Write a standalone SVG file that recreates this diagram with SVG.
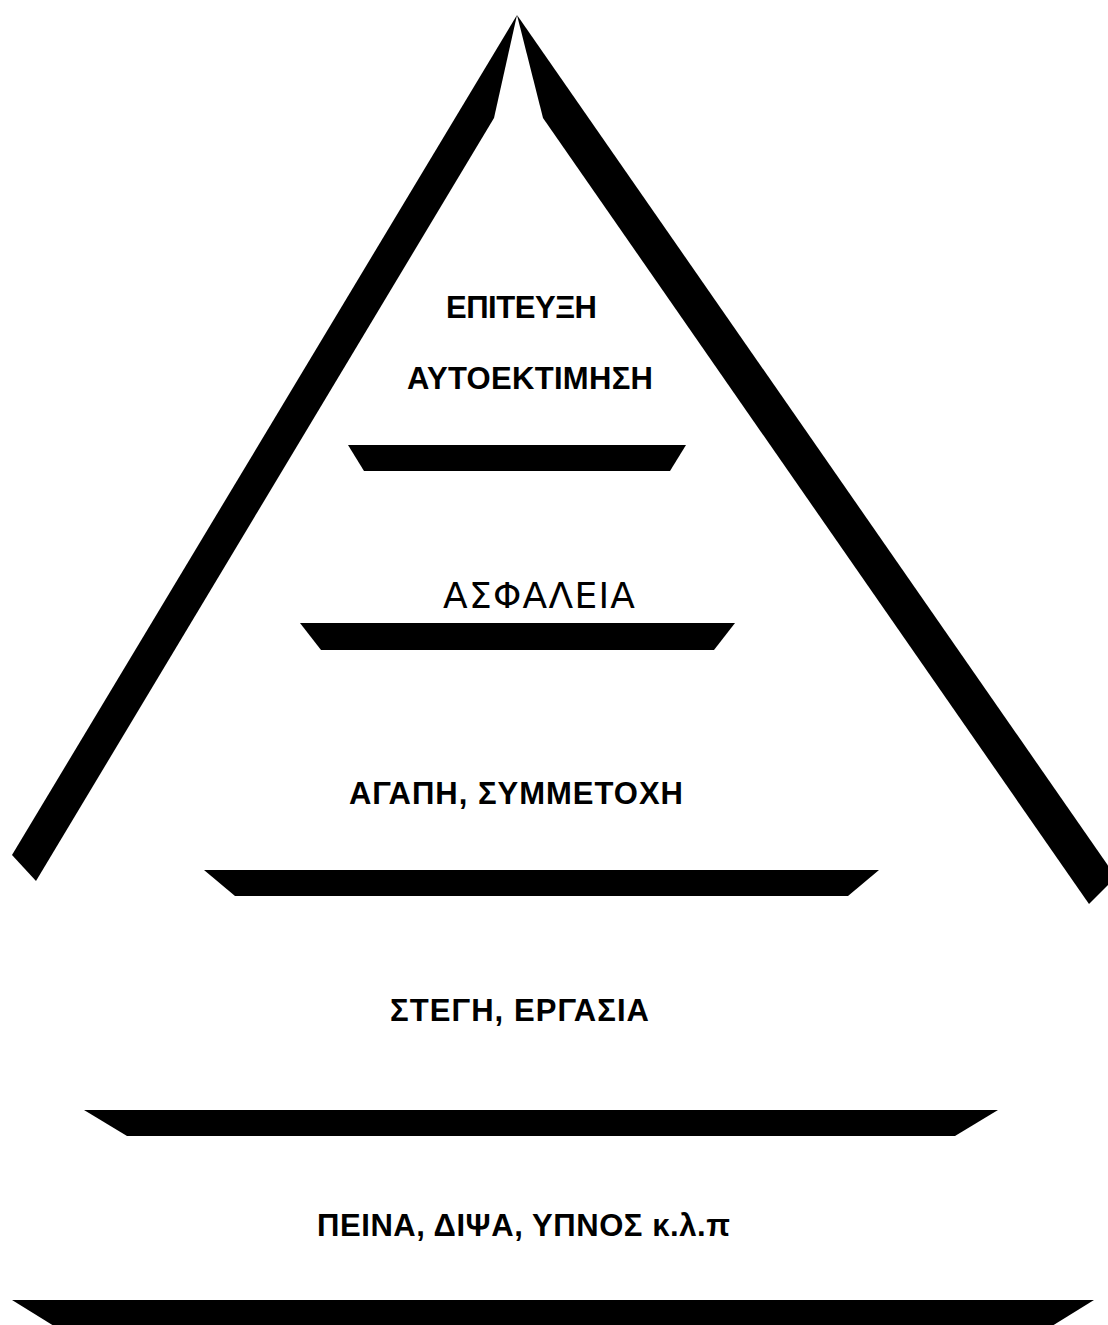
<svg xmlns="http://www.w3.org/2000/svg" width="1108" height="1325" viewBox="0 0 1108 1325">
  <style>
    .shape { fill: #000; stroke: none; }
    .lbl { font-family: "Liberation Sans", Arial, sans-serif; font-weight: bold; font-size: 31px; fill: #000; }
    .reg { font-family: "DejaVu Sans", "Liberation Sans", sans-serif; font-weight: normal; font-size: 36px; fill: #000; }
  </style>
  <rect width="1108" height="1325" fill="#fff"/>
  <g id="pyramid-sides">
    <polygon class="shape" points="517,15 494,118 36,881 12,855"/>
    <polygon class="shape" points="517,15 1116,877 1089,904 543,118"/>
  </g>
  <g id="bars">
    <polygon class="shape" points="348,445 686,445 670,471 364,471"/>
    <polygon class="shape" points="300,623 735,623 714,650 321,650"/>
    <polygon class="shape" points="204,870 879,870 848,896 235,896"/>
    <polygon class="shape" points="84,1110 998,1110 955,1136 127,1136"/>
    <polygon class="shape" points="12,1300 1094,1300 1052,1326 54,1326"/>
  </g>
  <g id="level-esteem">
    <text class="lbl" x="446" y="318" font-size="28" textLength="151" lengthAdjust="spacing">ΕΠΙΤΕΥΞΗ</text>
    <text class="lbl" x="407" y="389" textLength="246" lengthAdjust="spacing">ΑΥΤΟΕΚΤΙΜΗΣΗ</text>
  </g>
  <g id="level-safety">
    <text class="reg" x="443" y="608" textLength="192" lengthAdjust="spacing">ΑΣΦΑΛΕΙΑ</text>
  </g>
  <g id="level-love">
    <text class="lbl" x="349" y="804" textLength="334" lengthAdjust="spacing">ΑΓΑΠΗ, ΣΥΜΜΕΤΟΧΗ</text>
  </g>
  <g id="level-shelter">
    <text class="lbl" x="390" y="1021" textLength="259" lengthAdjust="spacing">ΣΤΕΓΗ, ΕΡΓΑΣΙΑ</text>
  </g>
  <g id="level-physiological">
    <text class="lbl" x="317" y="1236" textLength="413" lengthAdjust="spacing">ΠΕΙΝΑ, ΔΙΨΑ, ΥΠΝΟΣ κ.λ.π</text>
  </g>
  <g id="connectors"></g>
</svg>
